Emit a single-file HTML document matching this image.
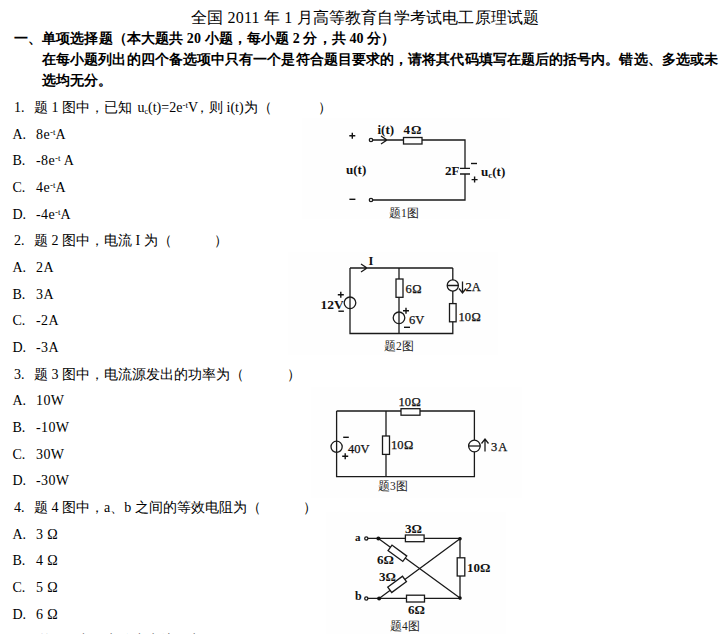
<!DOCTYPE html>
<html><head><meta charset="utf-8">
<style>
html,body{margin:0;padding:0;background:#fff;}
body{width:726px;height:634px;overflow:hidden;position:relative;font-family:"Liberation Serif",serif;color:#000;}
.c{position:absolute;white-space:pre;line-height:20px;}
.sp{font-size:9px;position:relative;top:-4px;letter-spacing:0}
.sb{font-size:8px;position:relative;top:2px;}
svg{position:absolute;left:0;top:0;}
</style></head><body>
<div class="c" style="left:191px;top:8.10px;font-size:16px;letter-spacing:0.18px">全国 2011 年 1 月高等教育自学考试电工原理试题</div>
<div class="c" style="left:14px;top:28.77px;font-size:14px;font-weight:bold;letter-spacing:0.1px">一、单项选择题（本大题共 20 小题，每小题 2 分，共 40 分）</div>
<div class="c" style="left:42px;top:49.77px;font-size:14px;font-weight:bold;letter-spacing:0.085px">在每小题列出的四个备选项中只有一个是符合题目要求的，请将其代码填写在题后的括号内。错选、多选或未</div>
<div class="c" style="left:42px;top:70.78px;font-size:14px;font-weight:bold">选均无分。</div>
<div class="c" style="left:14px;top:97.58px;font-size:14px">1.</div>
<div class="c" style="left:34px;top:97.58px;font-size:14px">题 1 图中，已知</div>
<div class="c" style="left:137.5px;top:97.58px;font-size:14px">u<span class="sb">c</span>(t)=2e<span class="sp">-t</span>V</div>
<div class="c" style="left:195px;top:97.58px;font-size:14px">，则 i(t)为（</div>
<div class="c" style="left:318px;top:97.58px;font-size:14px">）</div>
<div class="c" style="left:12.5px;top:124.58px;font-size:14px">A.</div>
<div class="c" style="left:36px;top:124.58px;font-size:14px;letter-spacing:0.4px">8e<span class="sp">-t</span>A</div>
<div class="c" style="left:12.5px;top:150.58px;font-size:14px">B.</div>
<div class="c" style="left:36px;top:150.58px;font-size:14px;letter-spacing:0.4px">-8e<span class="sp">-t</span> A</div>
<div class="c" style="left:12.5px;top:177.58px;font-size:14px">C.</div>
<div class="c" style="left:36px;top:177.58px;font-size:14px;letter-spacing:0.4px">4e<span class="sp">-t</span>A</div>
<div class="c" style="left:12.5px;top:204.58px;font-size:14px">D.</div>
<div class="c" style="left:36px;top:204.58px;font-size:14px;letter-spacing:0.4px">-4e<span class="sp">-t</span>A</div>
<div class="c" style="left:14px;top:230.58px;font-size:14px">2.</div>
<div class="c" style="left:34px;top:230.58px;font-size:14px">题 2 图中，电流 I 为（</div>
<div class="c" style="left:214px;top:230.58px;font-size:14px">）</div>
<div class="c" style="left:12.5px;top:257.57px;font-size:14px">A.</div>
<div class="c" style="left:36px;top:257.57px;font-size:14px;letter-spacing:0.4px">2A</div>
<div class="c" style="left:12.5px;top:284.57px;font-size:14px">B.</div>
<div class="c" style="left:36px;top:284.57px;font-size:14px;letter-spacing:0.4px">3A</div>
<div class="c" style="left:12.5px;top:310.57px;font-size:14px">C.</div>
<div class="c" style="left:36px;top:310.57px;font-size:14px;letter-spacing:0.4px">-2A</div>
<div class="c" style="left:12.5px;top:337.57px;font-size:14px">D.</div>
<div class="c" style="left:36px;top:337.57px;font-size:14px;letter-spacing:0.4px">-3A</div>
<div class="c" style="left:14px;top:364.57px;font-size:14px">3.</div>
<div class="c" style="left:34px;top:364.57px;font-size:14px">题 3 图中，电流源发出的功率为（</div>
<div class="c" style="left:287px;top:364.57px;font-size:14px">）</div>
<div class="c" style="left:12.5px;top:390.57px;font-size:14px">A.</div>
<div class="c" style="left:36px;top:390.57px;font-size:14px;letter-spacing:0.4px">10W</div>
<div class="c" style="left:12.5px;top:417.57px;font-size:14px">B.</div>
<div class="c" style="left:36px;top:417.57px;font-size:14px;letter-spacing:0.4px">-10W</div>
<div class="c" style="left:12.5px;top:444.57px;font-size:14px">C.</div>
<div class="c" style="left:36px;top:444.57px;font-size:14px;letter-spacing:0.4px">30W</div>
<div class="c" style="left:12.5px;top:470.57px;font-size:14px">D.</div>
<div class="c" style="left:36px;top:470.57px;font-size:14px;letter-spacing:0.4px">-30W</div>
<div class="c" style="left:14px;top:497.57px;font-size:14px">4.</div>
<div class="c" style="left:34px;top:497.57px;font-size:14px">题 4 图中，a、b 之间的等效电阻为（</div>
<div class="c" style="left:303px;top:497.57px;font-size:14px">）</div>
<div class="c" style="left:12.5px;top:524.57px;font-size:14px">A.</div>
<div class="c" style="left:36px;top:524.57px;font-size:14px;letter-spacing:0.4px">3 Ω</div>
<div class="c" style="left:12.5px;top:550.57px;font-size:14px">B.</div>
<div class="c" style="left:36px;top:550.57px;font-size:14px;letter-spacing:0.4px">4 Ω</div>
<div class="c" style="left:12.5px;top:577.57px;font-size:14px">C.</div>
<div class="c" style="left:36px;top:577.57px;font-size:14px;letter-spacing:0.4px">5 Ω</div>
<div class="c" style="left:12.5px;top:604.57px;font-size:14px">D.</div>
<div class="c" style="left:36px;top:604.57px;font-size:14px;letter-spacing:0.4px">6 Ω</div>
<div class="c" style="left:14px;top:630.57px;font-size:14px">5.</div>
<div class="c" style="left:35px;top:630.57px;font-size:14px">题 5 图中，电路中电流 I 为（</div>
<svg width="726" height="634" viewBox="0 0 726 634" style="position:absolute;left:0;top:0">
<g fill="#fefefe">
<rect x="302" y="118" width="208" height="101"/>
<rect x="288" y="252" width="210" height="103"/>
<rect x="311" y="387" width="211" height="111"/>
<rect x="326" y="512" width="180" height="122"/>
</g>
<g fill="none" stroke="#1a1a1a" stroke-width="1.3">
<!-- Fig1 -->
<circle cx="371" cy="140" r="1.7"/>
<path d="M372.7 140 H403 M381 136 L387 140 L381 144"/>
<rect x="403.5" y="137.5" width="18.5" height="6.5"/>
<path d="M422 140 H465 V168.3 M460 168.3 H470 M460 174 H470 M465 174 V200 H372.7"/>
<circle cx="371" cy="200" r="1.7"/>
<!-- Fig2 -->
<path d="M350 268 H452.8 M350 268 V333.5 H452.8 V321.8 M399 268 V279 M399 297.3 V333.5 M452.8 268 V280 M452.8 291 V303.6 M361 264 L367 268 L361 272"/>
<circle cx="350" cy="302.8" r="5.8"/>
<rect x="396" y="279" width="7" height="18.3"/>
<circle cx="399" cy="317.8" r="5.8"/>
<circle cx="452.8" cy="285.5" r="5.6"/>
<path d="M447.2 285.5 H458.4 M462.5 281.5 V292.5 M459 288.5 L462.5 293 L466 288.5"/>
<rect x="449.5" y="303.6" width="6.6" height="18.2"/>
<!-- Fig3 -->
<path d="M336.6 411 H401 M420 411 H474.4 V440.2 M474.4 451.8 V476.6 H336.6 V411 M386 411 V436 M386 454.4 V476.6 M485 451.5 V439.5 M481.5 443.5 L485 439 L488.5 443.5"/>
<rect x="401" y="408.7" width="19" height="6.5"/>
<circle cx="336.6" cy="446.8" r="5.6"/>
<rect x="382.5" y="436" width="7" height="18.4"/>
<circle cx="474.4" cy="446" r="5.8"/>
<path d="M468.6 446 H480.2"/>
<!-- Fig4 -->
<circle cx="366.3" cy="538.4" r="1.6"/>
<circle cx="366.3" cy="598.5" r="1.6"/>
<path d="M367.9 538.4 H405.4 M424.1 538.4 H460 V557.8 M460 576 V598.3 H424.5 M406.5 598.3 H367.9"/>
<rect x="405.4" y="535" width="18.7" height="6.7"/>
<rect x="406.5" y="595.2" width="18" height="6.8"/>
<rect x="457.2" y="557.8" width="7.6" height="18.2"/>
<path d="M378.4 538.4 L460 598.1 M379.1 598.5 L460 538.8"/>
</g>
<g fill="#fff" stroke="#1a1a1a" stroke-width="1.3">
<rect x="-9.15" y="-3.35" width="18.3" height="6.7" transform="translate(397.4 553.3) rotate(36.2)"/>
<rect x="-9.15" y="-3.35" width="18.3" height="6.7" transform="translate(397.1 584.4) rotate(-36.4)"/>
</g>
<g fill="#111">
<circle cx="378.4" cy="538.6" r="2"/>
<circle cx="379.1" cy="598.5" r="2"/>
<circle cx="460" cy="538.8" r="1.8"/>
<circle cx="460" cy="598.1" r="1.8"/>
</g>
<g fill="none" stroke="#111" stroke-width="1.4">
<!-- signs -->
<path d="M349.3 135.7 H355.3 M352.3 132.7 V138.7"/>
<path d="M349.4 199.3 H355.4"/>
<path d="M471 163.5 H477"/>
<path d="M471.6 179.6 H477.6 M474.6 176.6 V182.6"/>
<path d="M337.8 294.8 H343.8 M340.8 291.8 V297.8"/>
<path d="M338.4 311.2 H343.9"/>
<path d="M403 310.7 H409 M406 307.7 V313.7"/>
<path d="M404 327.3 H410"/>
<path d="M343.2 437.3 H348.8"/>
<path d="M342.2 456.2 H348.2 M345.2 453.2 V459.2"/>
</g>
<g font-family="Liberation Serif" font-weight="bold" font-size="13" fill="#111">
<text x="377.5" y="134">i(t)</text>
<text x="403.5" y="133.5">4<tspan dx="1">Ω</tspan></text>
<text x="346" y="174">u(t)</text>
<text x="445" y="175">2F</text>
<text x="481" y="176">u<tspan font-size="9" dy="2">c</tspan><tspan dy="-2">(t)</tspan></text>
</g>
<g font-family="Liberation Serif" font-size="12.5" fill="#111" stroke="#111" stroke-width="0.25">
<text x="368.5" y="265" font-weight="bold" stroke="none">I</text>
<text x="320.5" y="308.6" font-weight="bold" font-size="13.5" stroke="none">12V</text>
<text x="405.5" y="293">6<tspan dx="0.5">Ω</tspan></text>
<text x="409" y="323.5">6V</text>
<text x="465.5" y="290.5">2A</text>
<text x="458.5" y="321">10<tspan dx="0.5">Ω</tspan></text>
<text x="398.5" y="406">10<tspan dx="0.5">Ω</tspan></text>
<text x="391" y="449.2">10<tspan dx="0.5">Ω</tspan></text>
<text x="348" y="452.5">40V</text>
<text x="491" y="450.5">3<tspan dx="1">A</tspan></text>
</g>
<g font-family="Liberation Serif" font-weight="bold" font-size="13" fill="#111">
<text x="355" y="541" font-size="11">a</text>
<text x="355" y="600" font-size="12">b</text>
<text x="405" y="533">3Ω</text>
<text x="377" y="564">6Ω</text>
<text x="379" y="581">3Ω</text>
<text x="467" y="571.5">10Ω</text>
<text x="408" y="613.5">6Ω</text>
</g>
<g font-family="Liberation Serif" font-size="11.5" fill="#222">
<text x="389" y="217">题1图</text>
<text x="384" y="350">题2图</text>
<text x="378" y="489.5">题3图</text>
<text x="390" y="630">题4图</text>
</g>
</svg>

</body></html>
